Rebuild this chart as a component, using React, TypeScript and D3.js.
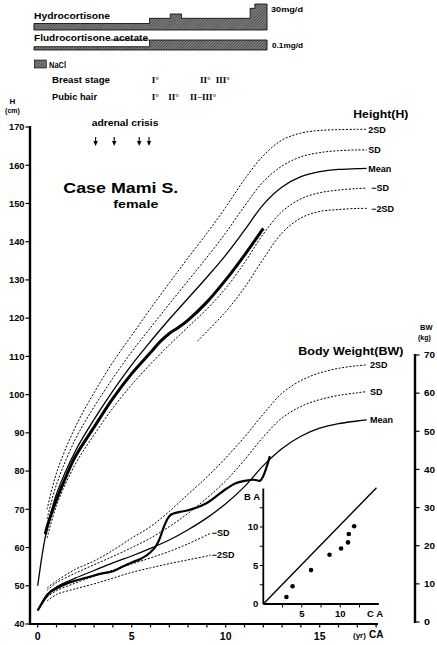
import React from "react";
import * as d3 from "d3";

const width = 437;
const height = 645;

// ---- treatment bars (age in years, dose) ----
const hcAges = [-0.2, 5.95, 7.05, 7.65, 11.3, 11.55, 12.2];
const hcDose = [7.5, 13.5, 18.5, 13.5, 25, 30, 30];
const fcAges = [-0.2, 5.95, 12.2];
const fcDose = [0.033, 0.1, 0.1];

// ---- pubertal stages ----
const breastAges = [6.06, 8.63, 9.47];
const breastLabels = ["I°", "II°", "III°"];
const pubicAges = [6.06, 6.95, 8.1];
const pubicLabels = ["I°", "II°", "II−III°"];

// ---- adrenal crisis episodes ----
const crisisAges = [3.08, 4.07, 5.4, 5.92];

// ---- height standards (cm) ----
const stdAges = [0.5, 1, 2, 3, 4, 5, 6, 7, 8, 9, 10, 11, 12, 13, 14, 15, 16, 17, 17.5];
const hMeanAges = [0, 0.25, ...stdAges];
const hMean = [50, 58.5, 65, 74, 85.2, 93.5, 101, 107.8, 113.9, 119.7, 125.2, 130.7, 136.5, 143, 149.7, 154.3, 157, 158.3, 158.9, 159.1, 159.2];
const hPlus2 = [70, 79.5, 91.5, 100.5, 108.5, 115.5, 122.5, 129.2, 135.8, 142.2, 149, 156.3, 162.5, 166.6, 168.4, 169.1, 169.3, 169.4, 169.4];
const hPlus1 = [67.5, 76.5, 88.3, 96.8, 104.3, 111.2, 117.5, 123.7, 129.8, 135.9, 142.3, 149.3, 155.7, 159.8, 162.2, 163.3, 163.8, 164, 164];
const hMinus1 = [62.5, 71, 81.8, 89.5, 96.5, 102.6, 108, 113, 117.7, 122.4, 127.8, 134.5, 142, 147.9, 151.2, 152.8, 153.5, 153.9, 154];
const hMinus2Ages = [8.5, 9, 10, 11, 12, 13, 14, 15, 16, 17, 17.5];
const hMinus2 = [114, 116.5, 121.7, 128, 135.5, 142.3, 146.2, 147.9, 148.4, 148.7, 148.7];

// ---- patient height ----
const ptHAges = [0.4, 0.6, 1, 1.5, 2, 3, 4, 5, 6, 6.5, 7, 7.5, 8, 9, 10, 11, 12];
const ptH = [63.5, 67, 72.5, 78.5, 83.8, 91.5, 99, 105.5, 111, 113.8, 116, 117.6, 119.5, 124.2, 130, 136.5, 143.5];

// ---- body weight standards (kg) ----
const wMeanAges = [0, ...stdAges];
const wMean = [3.0, 7.3, 9.2, 11.5, 13.5, 15.5, 17.3, 19.3, 21.5, 24.2, 27.3, 31, 35.5, 41, 45.5, 48.7, 50.8, 52, 52.7, 53];
const wPlus1 = [8.3, 10.3, 12.8, 15, 17.2, 19.5, 22, 25, 28.5, 32.5, 37, 42.5, 48.5, 53.5, 56.5, 58.3, 59.4, 60.1, 60.4];
const wPlus2 = [8.9, 10.8, 13.8, 16, 18.8, 22, 25, 29, 33.5, 38, 43, 48.5, 54.5, 60, 63.3, 65.3, 66.5, 67.2, 67.4];
const wLowAges = [0.5, 1, 2, 3, 4, 5, 6, 7, 8, 9, 9.2];
const wMinus1 = [6.6, 8.2, 10.2, 12, 13.6, 15.2, 16.8, 18.5, 20.5, 22.8, 23.3];
const wMinus2 = [5.5, 7.2, 8.7, 10, 11.5, 13, 14.2, 15.3, 16.3, 17.3, 17.6];

// ---- patient weight ----
const ptWAges = [0, 0.3, 0.6, 1, 1.5, 2, 2.5, 3, 3.5, 4, 4.5, 5, 5.5, 6, 6.3, 6.5, 6.7, 6.9, 7.1, 7.5, 8, 9, 10, 10.5, 11, 11.5, 11.8, 12, 12.2, 12.35];
const ptW = [3, 5.5, 7.5, 8.8, 10, 10.8, 11.5, 12.2, 12.8, 13.3, 14.5, 15.6, 16.6, 18.3, 20, 22, 24.8, 27, 28.2, 28.8, 29.3, 31.2, 34.8, 36.3, 37, 37.3, 37, 38.3, 41, 43.5];

// ---- bone age inset ----
const baCA = [3.0, 3.8, 6.2, 8.6, 10.1, 11.0, 11.1, 11.8];
const baBA = [0.9, 2.3, 4.4, 6.4, 7.2, 8.0, 9.1, 10.1];

const x = d3.scaleLinear().domain([0, 18]).range([37.7, 376.1]);
const yH = d3.scaleLinear().domain([40, 170]).range([624, 127]);
const yW = d3.scaleLinear().domain([0, 70]).range([622, 355]);
const bx = d3.scaleLinear().domain([0, 15]).range([263.3, 378.8]);
const by = d3.scaleLinear().domain([0, 15]).range([604, 488.5]);
const hcY = d3.scaleLinear().domain([0, 30]).range([30, 4]);
const fcY = d3.scaleLinear().domain([0, 0.1]).range([50, 40]);

const font = "'Liberation Sans', Arial, Helvetica, sans-serif";
const serif = "'Liberation Serif', 'Times New Roman', serif";

function linePath(ages: number[], vals: number[], ys: d3.ScaleLinear<number, number>, smooth = true) {
  const pts = ages.map((a, i) => [a, vals[i]] as [number, number]);
  return d3
    .line<[number, number]>()
    .x(d => x(d[0]))
    .y(d => ys(d[1]))
    .curve(smooth ? d3.curveCatmullRom.alpha(0.5) : d3.curveMonotoneX)(pts) as string;
}

function stepArea(ages: number[], vals: number[], ys: d3.ScaleLinear<number, number>) {
  const pts = ages.map((a, i) => [a, vals[i]] as [number, number]);
  return d3
    .area<[number, number]>()
    .x(d => x(d[0]))
    .y0(ys(0))
    .y1(d => ys(d[1]))
    .curve(d3.curveStepAfter)(pts) as string;
}

const dash = "2 1.6";

export default function App() {
  const hLabels = [
    { t: "2SD", v: hPlus2[hPlus2.length - 1], dx: 0 },
    { t: "SD", v: hPlus1[hPlus1.length - 1], dx: 0 },
    { t: "Mean", v: hMean[hMean.length - 1], dx: 0 },
    { t: "−SD", v: hMinus1[hMinus1.length - 1], dx: 3 },
    { t: "−2SD", v: hMinus2[hMinus2.length - 1], dx: 3 },
  ];
  const wLabels = [
    { t: "2SD", v: wPlus2[wPlus2.length - 1] },
    { t: "SD", v: wPlus1[wPlus1.length - 1] },
    { t: "Mean", v: wMean[wMean.length - 1] },
  ];
  const xTicks = d3.range(0, 19, 1);
  const inTicks = [2.5, 5, 7.5, 10, 12.5];

  return (
    <svg
      width={width}
      height={height}
      style={{ position: "absolute", left: 0, top: 0, background: "#fff" }}
      fontFamily={font}
      fontWeight="bold"
    >
      <defs>
        <pattern id="hatch" width="2" height="2" patternUnits="userSpaceOnUse" patternTransform="rotate(45)">
          <rect width="2" height="2" fill="#8a8a8a" />
          <line x1="0" y1="0" x2="0" y2="2" stroke="#000" strokeWidth="0.9" />
        </pattern>
      </defs>
      <rect width={width} height={height} fill="#fff" />

      {/* treatment header */}
      <text x={34} y={19} fontSize={8.5} textLength={76} lengthAdjust="spacingAndGlyphs">Hydrocortisone</text>
      <path d={stepArea(hcAges, hcDose, hcY)} fill="url(#hatch)" stroke="#000" strokeWidth={0.8} />
      <text x={271} y={12} fontSize={8} textLength={32} lengthAdjust="spacingAndGlyphs">30mg/d</text>
      <text x={34} y={40.5} fontSize={8.5} textLength={114} lengthAdjust="spacingAndGlyphs">Fludrocortisone acetate</text>
      <path d={stepArea(fcAges, fcDose, fcY)} fill="url(#hatch)" stroke="#000" strokeWidth={0.8} />
      <line x1={x(3.85)} x2={x(5.95)} y1={fcY(0.1)} y2={fcY(0.1)} stroke="#000" strokeWidth={0.8} />
      <text x={272} y={48} fontSize={8} textLength={31} lengthAdjust="spacingAndGlyphs">0.1mg/d</text>
      <rect x={34.3} y={60} width={12} height={8} fill="url(#hatch)" stroke="#000" strokeWidth={0.6} />
      <text x={49} y={67.5} fontSize={8.5} textLength={17} lengthAdjust="spacingAndGlyphs">NaCl</text>

      <text x={52} y={82.5} fontSize={8.5} textLength={58} lengthAdjust="spacingAndGlyphs">Breast stage</text>
      {breastAges.map((a, i) => (
        <text key={"b" + i} x={x(a)} y={82.5} fontSize={9} fontFamily={serif}>{breastLabels[i]}</text>
      ))}
      <text x={52} y={99.5} fontSize={8.5} textLength={45} lengthAdjust="spacingAndGlyphs">Pubic hair</text>
      {pubicAges.map((a, i) => (
        <text key={"p" + i} x={x(a)} y={99.5} fontSize={9} fontFamily={serif}>{pubicLabels[i]}</text>
      ))}

      {/* left axis (height) */}
      <text x={12.5} y={104} fontSize={8} textAnchor="middle">H</text>
      <text x={12.5} y={113} fontSize={7} textAnchor="middle">(cm)</text>
      <line x1={30} x2={30} y1={yH(170) - 1} y2={yH(40) + 1} stroke="#000" strokeWidth={2.4} />
      {d3.range(40, 171, 10).map(v => (
        <g key={"lh" + v}>
          <line x1={25.5} x2={30} y1={yH(v)} y2={yH(v)} stroke="#000" strokeWidth={1.2} />
          <text x={24.5} y={yH(v) + 3.3} fontSize={9} textAnchor="end" textLength={v >= 100 ? 15.5 : 10} lengthAdjust="spacingAndGlyphs">{v}</text>
        </g>
      ))}

      {/* bottom axis (age) */}
      <line x1={31} x2={x(18.1)} y1={624} y2={624} stroke="#000" strokeWidth={2.2} />
      {xTicks.map(t => (
        <line key={"xt" + t} x1={x(t)} x2={x(t)} y1={624} y2={627.5} stroke="#000" strokeWidth={1.2} />
      ))}
      {[0, 5, 10, 15].map(t => (
        <text key={"xl" + t} x={x(t)} y={640} fontSize={10.5} textAnchor="middle">{t}</text>
      ))}
      <text x={353} y={638} fontSize={8}>(yr)</text>
      <text x={369} y={638} fontSize={10}>CA</text>

      {/* right axis (weight) */}
      <text x={420} y={330} fontSize={7.5}>BW</text>
      <text x={418} y={340} fontSize={7}>(kg)</text>
      <line x1={415} x2={415} y1={yW(70) - 1} y2={yW(0) + 1} stroke="#000" strokeWidth={2.4} />
      {d3.range(0, 71, 10).map(v => (
        <g key={"rw" + v}>
          <line x1={415} x2={419.5} y1={yW(v)} y2={yW(v)} stroke="#000" strokeWidth={1.2} />
          <text x={424} y={yW(v) + 3.3} fontSize={9} textLength={v === 0 ? 6 : 11} lengthAdjust="spacingAndGlyphs">{v}</text>
        </g>
      ))}

      {/* titles */}
      <text x={91.7} y={125.5} fontSize={8.5} textLength={66.7} lengthAdjust="spacingAndGlyphs">adrenal crisis</text>
      {crisisAges.map((a, i) => (
        <g key={"c" + i}>
          <line x1={x(a)} x2={x(a)} y1={137} y2={142} stroke="#000" strokeWidth={1.1} />
          <path d={`M${x(a) - 2.2},${141} L${x(a) + 2.2},${141} L${x(a)},${146} Z`} fill="#000" />
        </g>
      ))}
      <text x={63.3} y={193} fontSize={15.5} textLength={115} lengthAdjust="spacingAndGlyphs">Case Mami S.</text>
      <text x={113.3} y={208} fontSize={11} textLength={45} lengthAdjust="spacingAndGlyphs">female</text>
      <text x={353.3} y={118} fontSize={11} textLength={55} lengthAdjust="spacingAndGlyphs">Height(H)</text>
      <text x={298.3} y={355} fontSize={11} textLength={105} lengthAdjust="spacingAndGlyphs">Body Weight(BW)</text>

      {/* height curves */}
      <path d={linePath(stdAges, hPlus2, yH)} fill="none" stroke="#000" strokeWidth={1} strokeDasharray={dash} />
      <path d={linePath(stdAges, hPlus1, yH)} fill="none" stroke="#000" strokeWidth={1} strokeDasharray={dash} />
      <path d={linePath(hMeanAges, hMean, yH)} fill="none" stroke="#000" strokeWidth={1.3} />
      <path d={linePath(stdAges, hMinus1, yH)} fill="none" stroke="#000" strokeWidth={1} strokeDasharray={dash} />
      <path d={linePath(hMinus2Ages, hMinus2, yH)} fill="none" stroke="#000" strokeWidth={1} strokeDasharray={dash} />
      <path d={linePath(ptHAges, ptH, yH)} fill="none" stroke="#000" strokeWidth={3} />
      {hLabels.map(l => (
        <text key={"hl" + l.t} x={368.3 + l.dx} y={yH(l.v) + 3.3} fontSize={9}>{l.t}</text>
      ))}

      {/* weight curves */}
      <path d={linePath(stdAges, wPlus2, yW)} fill="none" stroke="#000" strokeWidth={1} strokeDasharray={dash} />
      <path d={linePath(stdAges, wPlus1, yW)} fill="none" stroke="#000" strokeWidth={1} strokeDasharray={dash} />
      <path d={linePath(wMeanAges, wMean, yW)} fill="none" stroke="#000" strokeWidth={1.3} />
      <path d={linePath(wLowAges, wMinus1, yW)} fill="none" stroke="#000" strokeWidth={1} strokeDasharray={dash} />
      <path d={linePath(wLowAges, wMinus2, yW)} fill="none" stroke="#000" strokeWidth={1} strokeDasharray={dash} />
      <path d={linePath(ptWAges, ptW, yW, false)} fill="none" stroke="#000" strokeWidth={2.2} />
      {wLabels.map(l => (
        <text key={"wl" + l.t} x={370} y={yW(l.v) + 3.3} fontSize={9}>{l.t}</text>
      ))}
      <text x={211.7} y={yW(wMinus1[wMinus1.length - 1]) + 3.3} fontSize={9}>−SD</text>
      <text x={211.7} y={yW(wMinus2[wMinus2.length - 1]) + 3.3} fontSize={9}>−2SD</text>

      {/* bone age inset */}
      <line x1={bx(0)} x2={bx(0)} y1={by(15)} y2={by(0)} stroke="#000" strokeWidth={1.8} />
      <line x1={bx(0)} x2={bx(15)} y1={by(0)} y2={by(0)} stroke="#000" strokeWidth={1.8} />
      {inTicks.map(t => (
        <g key={"it" + t}>
          <line x1={bx(0) - 3.5} x2={bx(0)} y1={by(t)} y2={by(t)} stroke="#000" strokeWidth={1} />
          <line x1={bx(t)} x2={bx(t)} y1={by(0)} y2={by(0) + 3.5} stroke="#000" strokeWidth={1} />
        </g>
      ))}
      {[0, 5, 10].map(t => (
        <text key={"iy" + t} x={bx(0) - 5} y={by(t) + 3.3} fontSize={9.5} textAnchor="end">{t}</text>
      ))}
      {[5, 10].map(t => (
        <text key={"ix" + t} x={bx(t)} y={616.5} fontSize={9.5} textAnchor="middle">{t}</text>
      ))}
      <text x={367} y={616.5} fontSize={9.5}>C A</text>
      <text x={244} y={500} fontSize={9.5}>B A</text>
      <line x1={bx(0)} y1={by(0)} x2={bx(14.7)} y2={by(15.1)} stroke="#000" strokeWidth={1.4} />
      {baCA.map((c, i) => (
        <circle key={"ba" + i} cx={bx(c)} cy={by(baBA[i])} r={2.3} fill="#000" />
      ))}
    </svg>
  );
}
